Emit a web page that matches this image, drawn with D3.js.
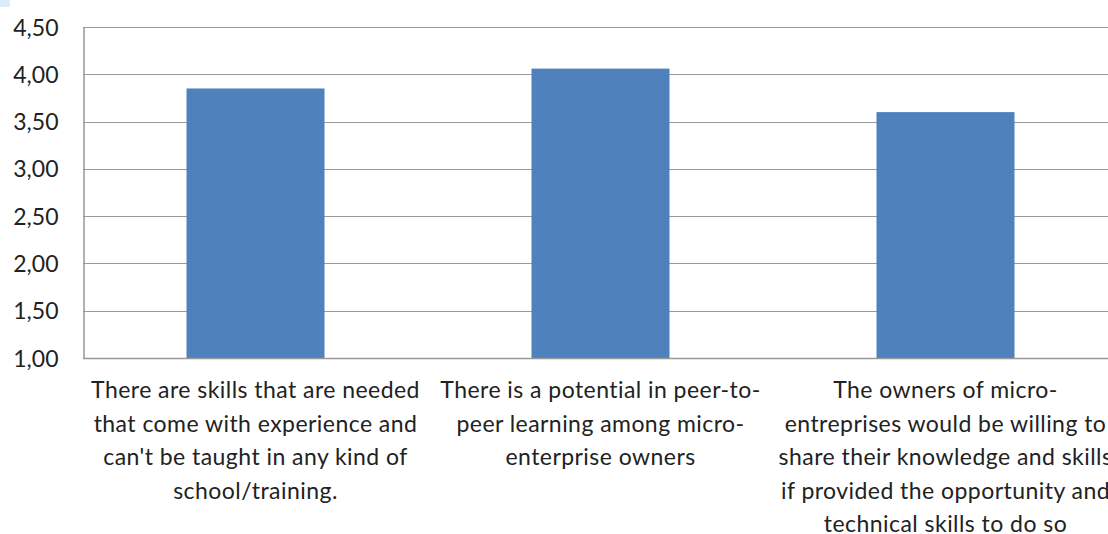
<!DOCTYPE html>
<html><head><meta charset="utf-8">
<script src="https://cdn.jsdelivr.net/npm/d3@7"></script>
<style>
html,body{margin:0;padding:0;background:#fff;overflow:hidden;}
svg{display:block;}
</style></head>
<body>
<svg id="c" width="1108" height="534"></svg>
<script>
const categories = [
  "There are skills that are needed\nthat come with experience and\ncan't be taught in any kind of\nschool/training.",
  "There is a potential in peer-to-\npeer learning among micro-\nenterprise owners",
  "The owners of micro-\nentreprises would be willing to\nshare their knowledge and skills\nif provided the opportunity and\ntechnical skills to do so"
];
const values = [3.85, 4.06, 3.60];
const yTicks = [1.00, 1.50, 2.00, 2.50, 3.00, 3.50, 4.00, 4.50];

(function(){
const svg = d3.select("#c");
const font = "Lato, 'Open Sans', sans-serif";
const pLeft = 83, pTop = 27, pBottom = 358, pRight = 83 + 345*3;

svg.append("rect").attr("x",0).attr("y",0).attr("width",10).attr("height",7).attr("fill","#dcebf8");

const x = d3.scaleBand().domain(categories).range([pLeft, pRight]).paddingInner(0.6).paddingOuter(0.3);
const y = d3.scaleLinear().domain([1, 4.5]).range([pBottom, pTop]);

svg.append("g").selectAll("line").data(yTicks.slice(1)).join("line")
  .attr("x1", pLeft).attr("x2", pRight)
  .attr("y1", d => Math.round(y(d))+0.5).attr("y2", d => Math.round(y(d))+0.5)
  .attr("stroke", "#999").attr("stroke-width", 1.2);

svg.append("g").selectAll("rect").data(values).join("rect")
  .attr("x", (d,i) => x(categories[i]))
  .attr("width", x.bandwidth())
  .attr("y", d => y(d))
  .attr("height", d => y(1) - y(d))
  .attr("fill", "#4f81bd");

const yAxis = d3.axisLeft(y).tickValues(yTicks).tickSize(0).tickPadding(25)
  .tickFormat(d => d3.format(".2f")(d).replace(".", ","));
const gy = svg.append("g").attr("transform", `translate(${pLeft+0.5},0)`).call(yAxis);
gy.select(".domain").attr("stroke", "#999").attr("stroke-width", 1.5);
gy.selectAll("text").attr("font-family", font).attr("font-size", 23).attr("fill", "#222").attr("dy","0.35em");

svg.append("line").attr("x1", pLeft).attr("x2", pRight).attr("y1", pBottom+0.5).attr("y2", pBottom+0.5)
  .attr("stroke", "#999").attr("stroke-width", 1.5);

const lab = svg.append("g");
categories.forEach(c => {
  const cx = x(c) + x.bandwidth()/2;
  const t = lab.append("text").attr("x", cx).attr("y", 398)
    .attr("text-anchor", "middle").attr("font-family", font).attr("font-size", 23)
    .attr("letter-spacing", 0.45).attr("fill", "#222");
  c.split("\n").forEach((line, i) => {
    t.append("tspan").attr("x", cx).attr("dy", i === 0 ? 0 : 33.6).text(line);
  });
});
})();
</script>
</body></html>
